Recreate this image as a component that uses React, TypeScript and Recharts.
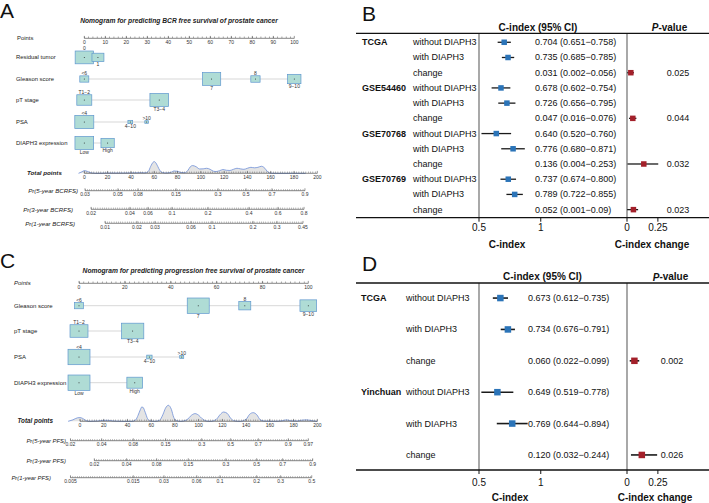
import React from 'react'
import { ComposedChart, Scatter, Area, XAxis, YAxis, ErrorBar, ReferenceLine } from 'recharts'

const FONT = '"Liberation Sans", Arial, Helvetica, sans-serif'
const BLUE = '#2b74b8'
const RED = '#a3202a'

// ---------- A: nomogram, BCR free survival ----------
const varsA = ['Residual tumor', 'Gleason score', 'pT stage', 'PSA', 'DIAPH3 expression']
const catsA = [['0', '1'], ['<6', '7', '8', '9−10'], ['T1−2', 'T3−4'], ['<4', '4−10', '>10'], ['Low', 'High']]
const pointsA = [[0, 6.5], [0, 60.6, 81.5, 100], [0, 35.7], [0, 21.9, 29.7], [0, 11.1]]
const countsA = [[268, 115], [65, 268, 69, 142], [180, 280], [289, 18, 11], [280, 142]]
const pointTicksA = [0, 10, 20, 30, 40, 50, 60, 70, 80, 90, 100]
const probNamesA = ['Pr(5-year BCRFS)', 'Pr(3-year BCRFS)', 'Pr(1-year BCRFS)']
const probLabelsA = [
  ['0.03', '0.05', '0.08', '0.15', '0.3', '0.5', '0.7', '0.9'],
  ['0.02', '0.04', '0.06', '0.1', '0.2', '0.4', '0.6', '0.8'],
  ['0.01', '0.02', '0.03', '0.06', '0.1', '0.2', '0.3', '0.45'],
]
const probPosA = [
  [0.6, 28.9, 46.1, 78.7, 114.8, 138.8, 161.1, 189.4],
  [5.8, 39.2, 54.7, 75.3, 106.2, 141.4, 166.3, 188.6],
  [17.8, 45.2, 60.7, 91.6, 109.6, 144.8, 165.4, 187.7],
]
const densXA = [-5, -2, 0, 3, 6, 10, 20, 30, 40, 48, 52, 55, 57, 59, 60, 61, 63, 65, 67, 70, 74, 77, 80, 83, 86, 89, 91, 93, 96, 99, 102, 105, 108, 111, 113, 116, 119, 122, 125, 128, 131, 134, 137, 140, 143, 146, 149, 152, 155, 157, 159, 162, 175, 190]
const densYA = [0, 0.13, 0.23, 0.15, 0.03, 0, 0.02, 0.02, 0.03, 0.05, 0.04, 0.17, 0.6, 0.94, 1, 0.94, 0.6, 0.21, 0.07, 0.03, 0.07, 0.2, 0.17, 0.07, 0.05, 0.26, 0.56, 0.66, 0.56, 0.37, 0.38, 0.43, 0.34, 0.17, 0.15, 0.22, 0.32, 0.26, 0.24, 0.34, 0.43, 0.38, 0.34, 0.43, 0.51, 0.47, 0.51, 0.6, 0.43, 0.17, 0.04, 0, 0, 0]

// ---------- C: nomogram, progression free survival ----------
const varsC = ['Gleason score', 'pT stage', 'PSA', 'DIAPH3 expression']
const catsC = [['<6', '7', '8', '9−10'], ['T1−2', 'T3−4'], ['<4', '4−10', '>10'], ['Low', 'High']]
const pointsC = [[0, 52, 72.3, 100], [0, 23.4], [0, 30.7, 44.8], [0, 24.3]]
const countsC = [[43, 272, 81, 157], [182, 280], [272, 16, 9], [272, 139]]
const pointTicksC = [0, 20, 40, 60, 80, 100]
const probNamesC = ['Pr(5-year PFS)', 'Pr(3-year PFS)', 'Pr(1-year PFS)']
const probLabelsC = [
  ['0.02', '0.04', '0.08', '0.15', '0.3', '0.5', '0.7', '0.9', '0.97'],
  ['0.02', '0.04', '0.08', '0.15', '0.3', '0.5', '0.7', '0.9'],
  ['0.005', '0.015', '0.03', '0.06', '0.1', '0.2', '0.3', '0.5'],
]
const probPosC = [
  [-8, 18.3, 44.9, 72.2, 102.6, 127, 150.3, 175.6, 192.4],
  [12.1, 39.3, 64.6, 91.3, 123, 148.9, 170.8, 196.1],
  [-8, 44.9, 70.8, 98.4, 118, 148.9, 169.1, 195.3],
]
const densXC = [-10, -6, -2, 0, 2, 5, 8, 15, 20, 24, 28, 35, 44, 47, 49, 51, 52, 53, 55, 57, 59, 63, 67, 70, 72, 74.5, 77, 79, 81, 85, 90, 94, 97, 100, 103, 106, 110, 115, 118, 121, 124, 127, 130, 135, 140, 143, 146, 149, 152, 155, 162, 170, 174, 178, 183, 186, 191, 196, 200]
const densYC = [0, 0.09, 0.22, 0.23, 0.19, 0.05, 0, 0.02, 0.06, 0.06, 0.02, 0, 0, 0.09, 0.38, 0.75, 0.89, 0.88, 0.56, 0.16, 0.03, 0, 0.06, 0.44, 0.81, 1, 0.75, 0.25, 0.05, 0, 0.09, 0.38, 0.48, 0.38, 0.16, 0.03, 0, 0.13, 0.41, 0.58, 0.5, 0.19, 0.03, 0, 0.13, 0.44, 0.54, 0.41, 0.09, 0.02, 0, 0.03, 0.09, 0.03, 0.02, 0.06, 0.09, 0.03, 0]

const totalTicks = [0, 20, 40, 60, 80, 100, 120, 140, 160, 180, 200]

// ---------- B / D: C-index forest tables ----------
const models = ['without DIAPH3', 'with DIAPH3', 'change']
const cohortsB = ['TCGA', 'GSE54460', 'GSE70768', 'GSE70769']
const withoutB = [['0.704', '0.651', '0.758'], ['0.678', '0.602', '0.754'], ['0.640', '0.520', '0.760'], ['0.737', '0.674', '0.800']]
const withB = [['0.735', '0.685', '0.785'], ['0.726', '0.656', '0.795'], ['0.776', '0.680', '0.871'], ['0.789', '0.722', '0.855']]
const changeB = [['0.031', '0.002', '0.056'], ['0.047', '0.016', '0.076'], ['0.136', '0.004', '0.253'], ['0.052', '0.001', '0.09']]
const pB = ['0.025', '0.044', '0.032', '0.023']

const cohortsD = ['TCGA', 'Yinchuan']
const withoutD = [['0.673', '0.612', '0.735'], ['0.649', '0.519', '0.778']]
const withD = [['0.734', '0.676', '0.791'], ['0.769', '0.644', '0.894']]
const changeD = [['0.060', '0.022', '0.099'], ['0.120', '0.032', '0.244']]
const pD = ['0.002', '0.026']

const ciTicks = [0.5, 1]
const changeTicks = [0, 0.25]

// ---------------------------------------------------------------

function Nomogram({ d, L }: any) {
  const varData = d.vars.map((_: string, i: number) =>
    d.cats[i].map((c: string, j: number) => ({
      x: d.pts[i][j],
      y: L.rowVars[i],
      n: d.counts[i][j],
      label: c,
      above: d.cats[i].includes('Low') ? false : j % 2 === 0,
    }))
  )
  const axisRow = (xs: number[], labels: string[], y: number) => xs.map((x, j) => ({ x, y, label: labels[j] }))
  const pointAxis = axisRow(d.pointTicks, d.pointTicks.map(String), L.rowPoints)
  const totalAxis = axisRow(totalTicks, totalTicks.map(String), L.rowTotal)
  const probAxes = d.probPos.map((xs: number[], i: number) => axisRow(xs, d.probLabels[i], L.rowPr[i]))
  const dens = d.densX.map((x: number, i: number) => ({ x, y: L.rowTotal - d.densY[i] * L.densPx }))
  const ends = (row: any[]) => [row[0], row[row.length - 1]].map((r) => ({ x: r.x, y: r.y - 1 }))

  const box = (s: any) => {
    const w = L.boxScale * Math.sqrt(s.payload.n)
    const h = w * 0.7
    return (
      <g>
        <rect x={s.cx - w / 2} y={s.cy - h / 2} width={w} height={h} fill="#afdcd5" stroke="#5f97cf" strokeWidth={0.7} />
        <circle cx={s.cx} cy={s.cy} r={0.5} fill="#222" />
        <text x={s.cx} y={s.payload.above ? s.cy - h / 2 - 0.8 : s.cy + h / 2 + 4.4} textAnchor="middle"
          fontSize={5} fill="#333" fontFamily={FONT}>{s.payload.label}</text>
      </g>
    )
  }
  const tick = (s: any) => (
    <g>
      <line x1={s.cx} x2={s.cx} y1={s.cy} y2={s.cy - 2.4} stroke="#333" strokeWidth={0.5} />
      <text x={s.cx} y={s.cy + 5.4} textAnchor="middle" fontSize={5} fill="#333" fontFamily={FONT}>{s.payload.label}</text>
    </g>
  )
  const none = () => <g />
  const axisLine = { stroke: '#333', strokeWidth: 0.6 }

  return (
    <div style={{ position: 'absolute', left: 0, top: L.top, width: 354, height: L.height }}>
      <ComposedChart width={354} height={L.height}
        margin={{ top: 0, right: 354 - L.plotRight, bottom: 0, left: L.plotLeft }}>
        <XAxis xAxisId="pts" type="number" dataKey="x" domain={[0, 100]} padding={{ left: L.ptsPad[0], right: L.ptsPad[1] }} hide />
        <XAxis xAxisId="tot" type="number" dataKey="x" domain={L.totDomain} hide />
        <YAxis type="number" dataKey="y" domain={[0, L.height]} reversed hide />

        <Area xAxisId="tot" data={dens} dataKey="y" baseValue={L.rowTotal} type="monotone"
          fill="#e4e4e4" fillOpacity={1} stroke="#6f8fd8" strokeWidth={0.8} dot={false} activeDot={false}
          isAnimationActive={false} />

        <Scatter xAxisId="pts" data={pointAxis} shape={tick} line={axisLine} isAnimationActive={false} />
        <Scatter xAxisId="pts" data={ends(pointAxis)} shape={none} isAnimationActive={false}
          line={{ stroke: '#555', strokeWidth: 1.6, strokeDasharray: L.ptsDash }} />

        {varData.map((row: any[], i: number) => (
          <Scatter key={i} xAxisId="pts" data={row} shape={box} isAnimationActive={false}
            line={{ stroke: '#cdcdcd', strokeWidth: 0.8 }} />
        ))}

        <Scatter xAxisId="tot" data={totalAxis} shape={tick} line={axisLine} isAnimationActive={false} />
        <Scatter xAxisId="tot" data={ends(totalAxis)} shape={none} isAnimationActive={false}
          line={{ stroke: '#666', strokeWidth: 1.4, strokeDasharray: L.totDash }} />

        {probAxes.map((row: any[], i: number) => (
          <Scatter key={'p' + i} xAxisId="tot" data={row} shape={tick} line={axisLine} isAnimationActive={false} />
        ))}
        {probAxes.map((row: any[], i: number) => (
          <Scatter key={'m' + i} xAxisId="tot" data={ends(row)} shape={none} isAnimationActive={false}
            line={{ stroke: '#666', strokeWidth: 1.4, strokeDasharray: '0.4 1.8' }} />
        ))}
      </ComposedChart>

      <svg width={354} height={L.height} style={{ position: 'absolute', left: 0, top: 0, pointerEvents: 'none' }}
        fontFamily={FONT} fill="#222">
        <text x={L.titleX} y={L.titleY} textAnchor="middle" fontSize={6.7} fontWeight="bold" fontStyle="italic"
          dominantBaseline="central">{L.title}</text>
        <text x={L.pointsLabelX} y={L.rowPoints - 0.8} fontSize={L.fs} fontStyle={L.pointsItalic ? 'italic' : 'normal'}
          dominantBaseline="central">Points</text>
        {d.vars.map((v: string, i: number) => (
          <text key={v} x={L.varX} y={L.rowVars[i]} fontSize={L.fs} dominantBaseline="central">{v}</text>
        ))}
        <text x={L.totalX} y={L.rowTotal - 0.5} fontSize={L.fs + 0.3} fontWeight="bold" fontStyle="italic"
          dominantBaseline="central">Total points</text>
        {d.probNames.map((v: string, i: number) => (
          <text key={v} x={L.prEnd[i]} y={L.rowPr[i]} textAnchor="end" fontSize={L.prFs} fontStyle="italic"
            dominantBaseline="central">{v}</text>
        ))}
      </svg>
    </div>
  )
}

function Forest({ d, L }: any) {
  const rows = d.cohorts.flatMap((c: string, i: number) =>
    [d.without[i], d.withD[i], d.change[i]].map((v: string[], k: number) => ({
      row: 3 * i + k, group: k === 0 ? c : '', model: models[k], v, p: k === 2 ? d.p[i] : '',
    }))
  )
  const toPoint = (r: any) => {
    const e = Number(r.v[0])
    return { x: e, y: r.row, err: [e - Number(r.v[1]), Number(r.v[2]) - e] }
  }
  const ciData = rows.filter((r: any) => r.model !== 'change').map(toPoint)
  const chgData = rows.filter((r: any) => r.model === 'change').map(toPoint)

  const pxu = 123.5
  const plotW = 354 - 124
  const ciDomain = [0.5, 0.5 + plotW / pxu]
  const chgMin = -(627 - 479) / pxu
  const chgDomain = [chgMin, chgMin + plotW / pxu]

  const rowTick = (t: any) => {
    const r = rows[t.payload.value]
    if (!r) return <g />
    return (
      <g fontFamily={FONT} fontSize={9} fill="#111">
        {r.group && <text x={L.tx[0]} y={t.y} fontWeight="bold" dominantBaseline="central">{r.group}</text>}
        <text x={L.tx[1]} y={t.y} dominantBaseline="central">{r.model}</text>
        <text x={L.tx[2]} y={t.y} dominantBaseline="central">{`${r.v[0]} (${r.v[1]}−${r.v[2]})`}</text>
        {r.p && <text x={L.tx[3]} y={t.y} textAnchor="middle" dominantBaseline="central">{r.p}</text>}
      </g>
    )
  }
  const square = (color: string) => (s: any) => (
    <rect x={s.cx - L.sq / 2} y={s.cy - L.sq / 2} width={L.sq} height={L.sq} fill={color} />
  )
  // both x axes sit on the same bottom rule: each gets a near-zero height so they do not stack
  const axisProps = {
    type: 'number' as const, dataKey: 'x', height: 0.01, axisLine: false, tickSize: 4, tickMargin: L.tickGap,
    tickLine: { stroke: '#111', strokeWidth: 1 }, interval: 0 as const,
    tick: { fontSize: 10, fill: '#111', fontFamily: FONT },
  }

  return (
    <div style={{ position: 'absolute', left: 355, top: L.top0, width: 354, height: L.height }}>
      <ComposedChart width={354} height={L.height} margin={{ top: L.top, right: 0, bottom: L.bottom, left: 0 }}>
        <XAxis xAxisId="ci" {...axisProps} domain={ciDomain} ticks={ciTicks} />
        <XAxis xAxisId="chg" {...axisProps} domain={chgDomain} ticks={changeTicks} />
        <YAxis type="number" dataKey="y" domain={L.rows} reversed width={124} axisLine={false} tickLine={false}
          ticks={rows.map((r: any) => r.row)} tick={rowTick} interval={0} />
        <ReferenceLine xAxisId="ci" x={0.5} stroke="#6f6f6f" strokeWidth={1.2} ifOverflow="visible" />
        <ReferenceLine xAxisId="chg" x={0} stroke="#6f6f6f" strokeWidth={1.2} ifOverflow="visible" />
        <Scatter xAxisId="ci" data={ciData} shape={square(BLUE)} isAnimationActive={false}>
          <ErrorBar dataKey="err" direction="x" width={0} stroke="#1a1a1a" strokeWidth={L.lw} isAnimationActive={false} />
        </Scatter>
        <Scatter xAxisId="chg" data={chgData} shape={square(RED)} isAnimationActive={false}>
          <ErrorBar dataKey="err" direction="x" width={0} stroke="#1a1a1a" strokeWidth={L.lw} isAnimationActive={false} />
        </Scatter>
      </ComposedChart>
    </div>
  )
}

const layoutA = {
  top: 0, height: 250, plotLeft: 78.5, plotRight: 317.3, totDomain: [-5, 200], ptsPad: [5.8, 23],
  rowPoints: 38.3, rowVars: [57.4, 79, 100, 122, 143], rowTotal: 173.3, rowPr: [190.7, 209.3, 223.3],
  boxScale: 1.1176, densPx: 11.7, ptsDash: '0.5 3.7', totDash: '0.45 1.88',
  title: 'Nomogram for predicting BCR free survival of prostate cancer', titleX: 179, titleY: 20,
  pointsLabelX: 17, pointsItalic: false, varX: 16, totalX: 27, prEnd: [78, 73, 75], fs: 5.9, prFs: 6.1,
}
const layoutC = {
  top: 250, height: 253, plotLeft: 68.1, plotRight: 317.3, totDomain: [-10, 200], ptsPad: [10.9, 9],
  rowPoints: 33.3, rowVars: [55.7, 81, 107, 132.7], rowTotal: 171.3, rowPr: [190.7, 210.7, 227.7],
  boxScale: 1.333, densPx: 16, ptsDash: '0.5 4.09', totDash: '0.45 1.92',
  title: 'Nomogram for predicting progression free survival of prostate cancer', titleX: 193.5, titleY: 20.7,
  pointsLabelX: 14, pointsItalic: true, varX: 14, totalX: 17.5, prEnd: [66, 66, 51], fs: 6, prFs: 5.9,
}
const layoutB = { top0: 0, height: 250, top: 33.3, bottom: 32.28, rows: [-0.59, 11.53], tx: [7, 58, 180, 323], sq: 5.5, lw: 1.3, tickGap: 2 }
const layoutD = { top0: 250, height: 253, top: 33, bottom: 32.98, rows: [-0.48, 5.48], tx: [6, 51, 173, 317], sq: 6.5, lw: 1.6, tickGap: 5 }

export default function App() {
  const nomoA = { vars: varsA, cats: catsA, pts: pointsA, counts: countsA, pointTicks: pointTicksA, probNames: probNamesA, probLabels: probLabelsA, probPos: probPosA, densX: densXA, densY: densYA }
  const nomoC = { vars: varsC, cats: catsC, pts: pointsC, counts: countsC, pointTicks: pointTicksC, probNames: probNamesC, probLabels: probLabelsC, probPos: probPosC, densX: densXC, densY: densYC }
  const forestB = { cohorts: cohortsB, without: withoutB, withD: withB, change: changeB, p: pB }
  const forestD = { cohorts: cohortsD, without: withoutD, withD: withD, change: changeD, p: pD }

  return (
    <div style={{ position: 'relative', width: 709, height: 503, background: '#fff', overflow: 'hidden', fontFamily: FONT }}>
      <style>{'body{margin:0}'}</style>
      <Nomogram d={nomoA} L={layoutA} />
      <Nomogram d={nomoC} L={layoutC} />
      <Forest d={forestB} L={layoutB} />
      <Forest d={forestD} L={layoutD} />

      <svg width={709} height={503} style={{ position: 'absolute', left: 0, top: 0, pointerEvents: 'none' }}
        fontFamily={FONT} fill="#111">
        <text x={0} y={17.5} fontSize={21}>A</text>
        <text x={362} y={21} fontSize={21}>B</text>
        <text x={0} y={268} fontSize={21}>C</text>
        <text x={362} y={271} fontSize={21}>D</text>

        <text x={538} y={27} textAnchor="middle" fontSize={10} fontWeight="bold" dominantBaseline="central">C-index (95% CI)</text>
        <text x={669.5} y={27} textAnchor="middle" fontSize={10} fontWeight="bold" dominantBaseline="central">
          <tspan fontStyle="italic">P</tspan>-value</text>
        <line x1={356} x2={709} y1={33.3} y2={33.3} stroke="#111" strokeWidth={1.3} />
        <line x1={356} x2={709} y1={217.7} y2={217.7} stroke="#111" strokeWidth={1.3} />
        <text x={507} y={244} textAnchor="middle" fontSize={10} fontWeight="bold" dominantBaseline="central">C-index</text>
        <text x={652} y={244} textAnchor="middle" fontSize={10} fontWeight="bold" dominantBaseline="central">C-index change</text>

        <text x={542.5} y={276.7} textAnchor="middle" fontSize={10} fontWeight="bold" dominantBaseline="central">C-index (95% CI)</text>
        <text x={670.5} y={276.7} textAnchor="middle" fontSize={10} fontWeight="bold" dominantBaseline="central">
          <tspan fontStyle="italic">P</tspan>-value</text>
        <line x1={356} x2={709} y1={283} y2={283} stroke="#111" strokeWidth={1.3} />
        <line x1={356} x2={709} y1={470} y2={470} stroke="#111" strokeWidth={1.3} />
        <text x={510} y={497} textAnchor="middle" fontSize={10} fontWeight="bold" dominantBaseline="central">C-index</text>
        <text x={655} y={497} textAnchor="middle" fontSize={10} fontWeight="bold" dominantBaseline="central">C-index change</text>
      </svg>
    </div>
  )
}
